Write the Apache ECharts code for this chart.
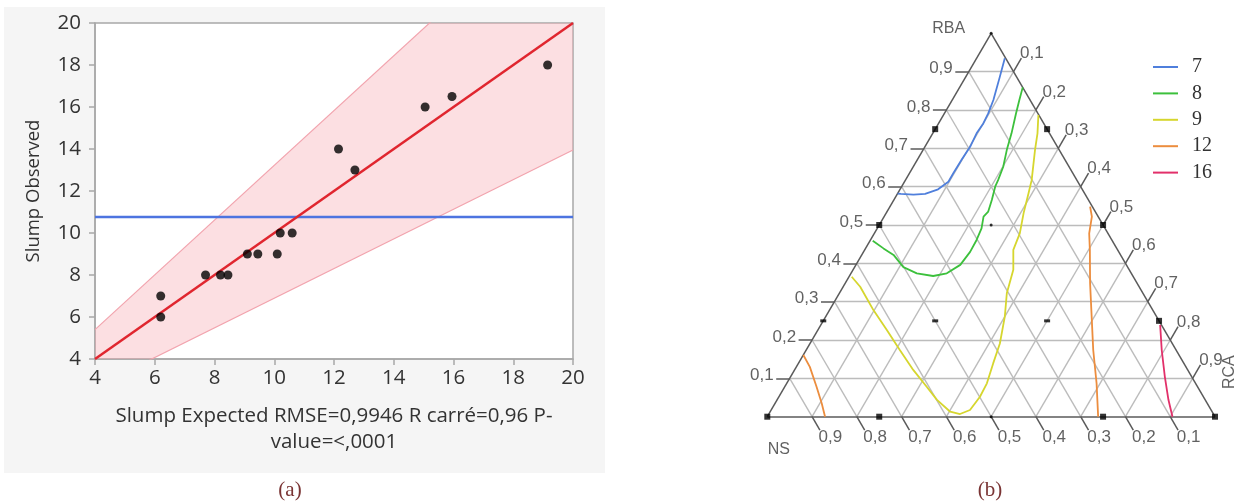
<!DOCTYPE html>
<html>
<head>
<meta charset="utf-8">
<script src="https://cdn.jsdelivr.net/npm/echarts@6/dist/echarts.min.js"></script>
<style>
html,body{margin:0;padding:0;background:#fff;}
#chart{width:1237px;height:504px;}
</style>
</head>
<body>
<div id="chart"></div>
<script>
// ---------- (a) expected vs observed slump ----------
const slumpExpected = [6.2, 6.2, 7.7, 8.2, 8.45, 9.1, 9.45, 10.1, 10.2, 10.6, 12.15, 12.7, 15.05, 15.95, 19.15];
const slumpObserved = [7, 6, 8, 8, 8, 9, 9, 9, 10, 10, 14, 13, 16, 16.5, 18];
const axisTicksA = [4, 6, 8, 10, 12, 14, 16, 18, 20];
const fitX = [4, 20];
const fitY = [4, 20];
// confidence band edges, evaluated at fitX
const bandUpper = [5.4, 26.26];
const bandLower = [2.66, 13.95];

// ---------- (b) ternary mixture plot, points are [RBA, RCA] ----------
const contour7 = [[0.935,0.063],[0.887,0.076],[0.826,0.092],[0.791,0.098],[0.765,0.100],[0.739,0.098],[0.704,0.101],[0.670,0.099],[0.635,0.098],[0.613,0.098],[0.593,0.085],[0.581,0.062],[0.579,0.037],[0.581,0.008],[0.582,0]];
const contour8 = [[0.859,0.141],[0.826,0.150],[0.791,0.160],[0.739,0.176],[0.696,0.187],[0.652,0.201],[0.617,0.207],[0.600,0.209],[0.565,0.219],[0.535,0.226],[0.522,0.222],[0.491,0.233],[0.461,0.237],[0.430,0.238],[0.396,0.233],[0.374,0.214],[0.367,0.187],[0.374,0.147],[0.390,0.109],[0.422,0.071],[0.439,0.040],[0.459,0.006]];
const contour9 = [[0.787,0.212],[0.739,0.234],[0.696,0.250],[0.617,0.282],[0.583,0.292],[0.531,0.307],[0.478,0.325],[0.435,0.332],[0.383,0.358],[0.322,0.374],[0.261,0.400],[0.191,0.424],[0.139,0.435],[0.087,0.447],[0.052,0.449],[0.0175,0.444],[0.007,0.427],[0.013,0.402],[0.044,0.357],[0.078,0.317],[0.122,0.265],[0.174,0.209],[0.226,0.154],[0.278,0.098],[0.339,0.038],[0.365,0.006]];
const contour12a = [[0.548,0.447],[0.522,0.464],[0.478,0.480],[0.435,0.503],[0.348,0.547],[0.261,0.594],[0.174,0.641],[0.087,0.692],[0,0.739]];
const contour12b = [[0.161,0],[0.130,0.030],[0.078,0.071],[0.035,0.104],[0,0.129]];
const contour16 = [[0.239,0.758],[0.174,0.794],[0.104,0.836],[0.044,0.874],[0,0.905]];
const contourLevels = ['7', '8', '9', '12', '16'];
const contourColors = ['#4f7fdc', '#3cc03c', '#d6d62e', '#ec8d3e', '#e2306a'];
const ternaryTicks = [0.1, 0.2, 0.3, 0.4, 0.5, 0.6, 0.7, 0.8, 0.9];
const ternaryTickLabels = ['0,1', '0,2', '0,3', '0,4', '0,5', '0,6', '0,7', '0,8', '0,9'];
// design points of the mixture lattice
const designSquares = [[0,0],[0,0.25],[0,0.75],[0,1],[0.5,0],[0.75,0],[0.75,0.25],[0.5,0.5],[0.25,0.75]];
const designDashes = [[0.25,0],[0.25,0.25],[0.25,0.5]];
const designDots = [[1,0],[0.5,0.25],[0,0.5]];

// ternary [RBA, RCA] -> plane coordinates
function tern(p) { return [p[1] + p[0] / 2, p[0]]; }

const meanObserved = slumpObserved.reduce((s, v) => s + v, 0) / slumpObserved.length;

const textA = '#333333';
const fontA = '"Open Sans", "Noto Sans", sans-serif';
const fontB = '"Liberation Sans", Arial, sans-serif';

// grid lines and ticks of the triangle
const triGrid = [];
const tickSegs = [];
const tickLen = 0.035;
ternaryTicks.forEach(v => {
  triGrid.push({ coords: [tern([v, 0]), tern([v, 1 - v])] });        // constant RBA
  triGrid.push({ coords: [tern([0, v]), tern([1 - v, v])] });        // constant RCA
  triGrid.push({ coords: [tern([0, 1 - v]), tern([1 - v, 0])] });    // constant NS
  tickSegs.push({ coords: [tern([v, 0]), tern([v, -tickLen * 0.86])] });
  tickSegs.push({ coords: [tern([0, 1 - v]), tern([-tickLen, 1 - v + tickLen])] });
  tickSegs.push({ coords: [tern([1 - v, v]), tern([1 - v + tickLen, v])] });
});
const triEdges = [
  { coords: [tern([0, 0]), tern([0, 1])] },
  { coords: [tern([0, 1]), tern([1, 0])] },
  { coords: [tern([1, 0]), tern([0, 0])] }
];

const leftLabels = ternaryTicks.map((v, i) => ({ value: tern([v, -tickLen * 0.86]), name: ternaryTickLabels[i] }));
const bottomLabels = ternaryTicks.map((v, i) => ({ value: tern([-tickLen, 1 - v + tickLen]), name: ternaryTickLabels[i] }));
const rightLabels = ternaryTicks.map((v, i) => ({ value: tern([1 - v + tickLen, v]), name: ternaryTickLabels[i] }));

function labelSeries(data, label) {
  return {
    type: 'scatter', xAxisIndex: 1, yAxisIndex: 1, clip: false, silent: true,
    symbolSize: 1, itemStyle: { color: 'rgba(0,0,0,0)' }, z: 6,
    data: data,
    label: Object.assign({ show: true, formatter: p => p.name, color: '#3a3a3a', fontSize: 17, fontFamily: fontB }, label)
  };
}

function contourSeries(name, pts, color) {
  return {
    name: name, type: 'line', xAxisIndex: 1, yAxisIndex: 1, clip: false,
    data: pts.map(tern), showSymbol: false, symbol: 'none', smooth: false,
    lineStyle: { color: color, width: 1.8 }, itemStyle: { color: color }, z: 5
  };
}

const chart = echarts.init(document.getElementById('chart'), null, { renderer: 'canvas' });

const option = {
  animation: false,
  backgroundColor: '#ffffff',
  graphic: [
    { type: 'rect', z: -10, shape: { x: 4, y: 7, width: 601, height: 466 }, style: { fill: '#f5f5f5' } },
    { type: 'text', z: 10, style: { text: '(a)', x: 290, y: 490, align: 'center', verticalAlign: 'middle', fill: '#7a3434', font: '21px "Liberation Serif", serif' } },
    { type: 'text', z: 10, style: { text: '(b)', x: 990, y: 490, align: 'center', verticalAlign: 'middle', fill: '#7a3434', font: '21px "Liberation Serif", serif' } }
  ],
  legend: {
    data: contourLevels,
    orient: 'vertical',
    left: 1148, top: 52,
    icon: 'rect', itemWidth: 25, itemHeight: 2, itemGap: 6.4,
    textStyle: { fontFamily: '"Liberation Serif", serif', fontSize: 20, color: '#333', lineHeight: 20, padding: [0, 0, 0, 9] },
    selectedMode: false
  },
  grid: [
    { left: 95, top: 23, width: 478, height: 336, show: true, backgroundColor: '#ffffff', borderColor: '#a8a8a8', borderWidth: 1.5 },
    { left: 767.3, top: 33.3, width: 447.7, height: 383.4 }
  ],
  xAxis: [
    {
      gridIndex: 0, type: 'value', min: axisTicksA[0], max: axisTicksA[axisTicksA.length - 1], interval: axisTicksA[1] - axisTicksA[0],
      splitLine: { show: false },
      axisLine: { show: true, lineStyle: { color: '#a8a8a8', width: 1.5 } },
      axisTick: { show: true, length: 6, lineStyle: { color: '#a8a8a8', width: 1.5 } },
      axisLabel: { color: textA, fontSize: 20.5, fontFamily: fontA, margin: 9 },
      name: 'Slump Expected RMSE=0,9946 R carré=0,96 P-\nvalue=<,0001',
      nameLocation: 'middle', nameGap: 44,
      nameTextStyle: { color: textA, fontSize: 20.5, fontFamily: fontA, lineHeight: 26 }
    },
    { gridIndex: 1, type: 'value', min: 0, max: 1, show: false }
  ],
  yAxis: [
    {
      gridIndex: 0, type: 'value', min: axisTicksA[0], max: axisTicksA[axisTicksA.length - 1], interval: axisTicksA[1] - axisTicksA[0],
      splitLine: { show: false },
      axisLine: { show: true, lineStyle: { color: '#a8a8a8', width: 1.5 } },
      axisTick: { show: true, length: 6, lineStyle: { color: '#a8a8a8', width: 1.5 } },
      axisLabel: { color: textA, fontSize: 20.5, fontFamily: fontA, margin: 14 },
      name: 'Slump Observed', nameLocation: 'middle', nameGap: 52, nameRotate: 90,
      nameTextStyle: { color: textA, fontSize: 18.5, fontFamily: fontA }
    },
    { gridIndex: 1, type: 'value', min: 0, max: 1, show: false }
  ],
  series: [
    // confidence band fill
    {
      type: 'custom', xAxisIndex: 0, yAxisIndex: 0, clip: true, silent: true, z: 1,
      data: [0],
      renderItem: function (params, api) {
        const pts = [
          api.coord([fitX[0], bandUpper[0]]),
          api.coord([fitX[1], bandUpper[1]]),
          api.coord([fitX[1], bandLower[1]]),
          api.coord([fitX[0], bandLower[0]])
        ];
        return {
          type: 'polygon',
          shape: { points: pts },
          style: { fill: 'rgba(246,170,180,0.38)', stroke: null },
          clipPath: { type: 'rect', shape: { x: params.coordSys.x, y: params.coordSys.y, width: params.coordSys.width, height: params.coordSys.height } }
        };
      }
    },
    {
      type: 'line', xAxisIndex: 0, yAxisIndex: 0, clip: true, silent: true, symbol: 'none', z: 2,
      data: fitX.map((x, i) => [x, bandUpper[i]]),
      lineStyle: { color: '#f2a4ae', width: 1.2 }
    },
    {
      type: 'line', xAxisIndex: 0, yAxisIndex: 0, clip: true, silent: true, symbol: 'none', z: 2,
      data: fitX.map((x, i) => [x, bandLower[i]]),
      lineStyle: { color: '#f2a4ae', width: 1.2 }
    },
    // mean of observed values
    {
      type: 'line', xAxisIndex: 0, yAxisIndex: 0, silent: true, symbol: 'none', z: 3,
      data: [[axisTicksA[0], meanObserved], [axisTicksA[axisTicksA.length - 1], meanObserved]],
      lineStyle: { color: '#4d74e0', width: 2.5 }
    },
    // fitted line
    {
      type: 'line', xAxisIndex: 0, yAxisIndex: 0, silent: true, symbol: 'none', z: 4,
      data: fitX.map((x, i) => [x, fitY[i]]),
      lineStyle: { color: '#e0262f', width: 2.5 }
    },
    {
      type: 'scatter', xAxisIndex: 0, yAxisIndex: 0, silent: true, z: 5,
      data: slumpExpected.map((x, i) => [x, slumpObserved[i]]),
      symbol: 'circle', symbolSize: 9, itemStyle: { color: '#000' }
    },

    // ternary grid
    {
      type: 'lines', coordinateSystem: 'cartesian2d', xAxisIndex: 1, yAxisIndex: 1, clip: false, silent: true, z: 2,
      data: triGrid, lineStyle: { color: '#bcbcbc', width: 1.4, opacity: 1 }
    },
    {
      type: 'lines', coordinateSystem: 'cartesian2d', xAxisIndex: 1, yAxisIndex: 1, clip: false, silent: true, z: 3,
      data: tickSegs.concat(triEdges), lineStyle: { color: '#5a5a5a', width: 1.5, opacity: 1 }
    },
    contourSeries(contourLevels[0], contour7, contourColors[0]),
    contourSeries(contourLevels[1], contour8, contourColors[1]),
    contourSeries(contourLevels[2], contour9, contourColors[2]),
    contourSeries(contourLevels[3], contour12a, contourColors[3]),
    contourSeries(contourLevels[3], contour12b, contourColors[3]),
    contourSeries(contourLevels[4], contour16, contourColors[4]),
    {
      type: 'scatter', xAxisIndex: 1, yAxisIndex: 1, clip: false, silent: true, z: 7,
      data: designSquares.map(tern), symbol: 'rect', symbolSize: 6, itemStyle: { color: '#000' }
    },
    {
      type: 'scatter', xAxisIndex: 1, yAxisIndex: 1, clip: false, silent: true, z: 7,
      data: designDashes.map(tern), symbol: 'rect', symbolSize: [6, 3], itemStyle: { color: '#000' }
    },
    {
      type: 'scatter', xAxisIndex: 1, yAxisIndex: 1, clip: false, silent: true, z: 7,
      data: designDots.map(tern), symbol: 'circle', symbolSize: 3, itemStyle: { color: '#000' }
    },
    labelSeries(leftLabels, { position: 'left', distance: 2, offset: [0, -3] }),
    labelSeries(bottomLabels, { position: [11, 8], align: 'center', verticalAlign: 'middle' }),
    labelSeries(rightLabels, { position: [11, -4], align: 'center', verticalAlign: 'middle' }),
    labelSeries([
      { value: tern([1, 0]), name: 'RBA', label: { position: [-42, -4] } },
      { value: tern([0, 0]), name: 'NS', label: { position: [12, 33] } },
      { value: tern([0, 1]), name: 'RCA', label: { position: [15, -44], rotate: 90 } }
    ], { align: 'center', verticalAlign: 'middle', fontSize: 16 })
  ]
};

chart.setOption(option);
</script>
</body>
</html>
